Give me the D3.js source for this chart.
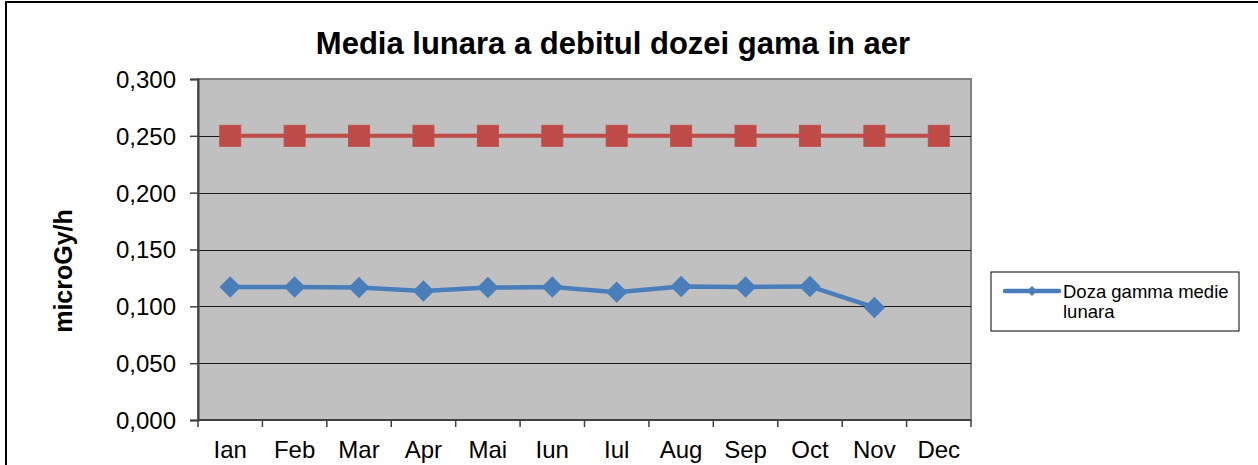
<!DOCTYPE html>
<html>
<head>
<meta charset="utf-8">
<script src="https://cdn.jsdelivr.net/npm/d3@7"></script>
<style>
    body { margin: 0; background: #fff; }
    svg { display: block; font-family: "Liberation Sans", Arial, sans-serif; }
</style>
</head>
<body>
<div id="chart"></div>
<script>
const months = ["Ian", "Feb", "Mar", "Apr", "Mai", "Iun", "Iul", "Aug", "Sep", "Oct", "Nov", "Dec"];
const dozaMedie = [0.117, 0.117, 0.1165, 0.1135, 0.1165, 0.117, 0.1125, 0.1175, 0.117, 0.1175, 0.099, null];
const limita = [0.25, 0.25, 0.25, 0.25, 0.25, 0.25, 0.25, 0.25, 0.25, 0.25, 0.25, 0.25];
const yTicks = [0, 0.05, 0.1, 0.15, 0.2, 0.25, 0.3];

const width = 1258, height = 465;
const plot = {left: 198, right: 971, top: 79, bottom: 420};

const svg = d3.select("#chart")
    .append("svg")
    .attr("width", width)
    .attr("height", height);

// chart border
svg.append("rect")
    .attr("x", 6).attr("y", 2)
    .attr("width", width + 10).attr("height", height + 10)
    .attr("fill", "#fff")
    .attr("stroke", "#000")
    .attr("stroke-width", 2);

const x = d3.scaleBand()
    .domain(months)
    .range([plot.left, plot.right]);

const y = d3.scaleLinear()
    .domain([0, 0.3])
    .range([plot.bottom, plot.top]);

const fmt = d => d3.format(".3f")(d).replace(".", ",");

// plot area
svg.append("rect")
    .attr("x", plot.left).attr("y", plot.top)
    .attr("width", plot.right - plot.left)
    .attr("height", plot.bottom - plot.top)
    .attr("fill", "#c0c0c0")
    .attr("stroke", "#808080")
    .attr("stroke-width", 2);

// gridlines
svg.append("g")
    .selectAll("line")
    .data(yTicks.filter(d => d > 0 && d < 0.3))
    .enter().append("line")
    .attr("x1", plot.left).attr("x2", plot.right)
    .attr("y1", d => Math.round(y(d)) + 0.5)
    .attr("y2", d => Math.round(y(d)) + 0.5)
    .attr("stroke", "#1a1a1a")
    .attr("stroke-width", 1.2);

// y axis
const yAxis = svg.append("g")
    .attr("transform", "translate(" + plot.left + ",0)")
    .call(d3.axisLeft(y).tickValues(yTicks).tickFormat(fmt).tickSize(8).tickPadding(14));
yAxis.select(".domain").attr("stroke", "#404040").attr("stroke-width", 2);
yAxis.selectAll(".tick line").attr("stroke", "#404040").attr("stroke-width", 1.5);
yAxis.selectAll("text")
    .attr("font-size", 24)
    .attr("fill", "#000")
    .attr("dy", "0.35em")
    .attr("font-family", "Liberation Sans, Arial, sans-serif");

// x axis
const xAxis = svg.append("g")
    .attr("transform", "translate(0," + plot.bottom + ")");
xAxis.append("line")
    .attr("x1", plot.left).attr("x2", plot.right)
    .attr("stroke", "#404040").attr("stroke-width", 2);
xAxis.selectAll(".xtick")
    .data(months.concat(["end"]))
    .enter().append("line")
    .attr("class", "xtick")
    .attr("x1", (d, i) => plot.left + i * x.bandwidth())
    .attr("x2", (d, i) => plot.left + i * x.bandwidth())
    .attr("y1", 0).attr("y2", 7)
    .attr("stroke", "#404040").attr("stroke-width", 1.5);
xAxis.selectAll(".xlabel")
    .data(months)
    .enter().append("text")
    .attr("class", "xlabel")
    .attr("x", d => x(d) + x.bandwidth() / 2)
    .attr("y", 38)
    .attr("text-anchor", "middle")
    .attr("font-size", 24)
    .text(d => d);

// series
const cx = (d, i) => x(months[i]) + x.bandwidth() / 2;

const line = d3.line()
    .defined(d => d != null)
    .x(cx)
    .y(d => y(d));

svg.append("path")
    .datum(limita)
    .attr("d", line)
    .attr("fill", "none")
    .attr("stroke", "#be4b48")
    .attr("stroke-width", 4);

svg.append("g")
    .selectAll("rect")
    .data(limita)
    .enter().append("rect")
    .attr("x", (d, i) => cx(d, i) - 10.5)
    .attr("y", d => y(d) - 10.5)
    .attr("width", 21).attr("height", 21)
    .attr("fill", "#be4b48")
    .attr("stroke", "#c0504d")
    .attr("stroke-width", 1);

svg.append("path")
    .datum(dozaMedie)
    .attr("d", line)
    .attr("fill", "none")
    .attr("stroke", "#4a7ebb")
    .attr("stroke-width", 4.5);

const diamond = d3.symbol().type(d3.symbolSquare).size(230);
svg.append("g")
    .selectAll("path")
    .data(dozaMedie.map((d, i) => ({v: d, i: i})).filter(d => d.v != null))
    .enter().append("path")
    .attr("d", diamond)
    .attr("transform", d => "translate(" + cx(d.v, d.i) + "," + y(d.v) + ") rotate(45)")
    .attr("fill", "#4a7ebb");

// title
svg.append("text")
    .attr("x", 613).attr("y", 54)
    .attr("text-anchor", "middle")
    .attr("font-size", 31)
    .attr("font-weight", "bold")
    .text("Media lunara a debitul dozei gama in aer");

// y title
svg.append("text")
    .attr("transform", "translate(72,271) rotate(-90)")
    .attr("text-anchor", "middle")
    .attr("font-size", 25)
    .attr("font-weight", "bold")
    .text("microGy/h");

// legend
const legend = svg.append("g").attr("transform", "translate(991,272)");
legend.append("rect")
    .attr("width", 248).attr("height", 59)
    .attr("fill", "#fff")
    .attr("stroke", "#000")
    .attr("stroke-width", 1);
legend.append("line")
    .attr("x1", 14).attr("x2", 68)
    .attr("y1", 19).attr("y2", 19)
    .attr("stroke", "#4a7ebb").attr("stroke-width", 4.5)
    .attr("stroke-linecap", "round");
legend.append("path")
    .attr("d", d3.symbol().type(d3.symbolSquare).size(50))
    .attr("transform", "translate(41,19) rotate(45)")
    .attr("fill", "#4a7ebb");
legend.append("text")
    .attr("x", 72).attr("y", 26)
    .attr("font-size", 18.5)
    .text("Doza gamma medie");
legend.append("text")
    .attr("x", 72).attr("y", 46)
    .attr("font-size", 18.5)
    .text("lunara");
</script>
</body>
</html>
